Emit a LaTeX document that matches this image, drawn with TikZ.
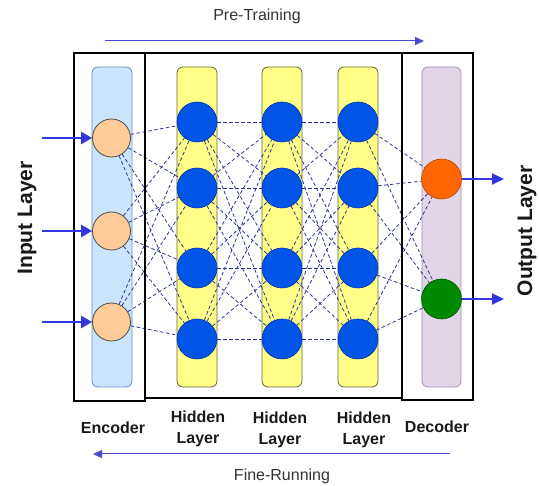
\documentclass[tikz,border=0pt]{standalone}
\usepackage{fontspec}
\setmainfont{Liberation Sans}
\usetikzlibrary{arrows.meta}
\pgfdeclarelayer{bg}
\pgfdeclarelayer{edges}
\pgfsetlayers{bg,edges,main}
\definecolor{encfill}{HTML}{CCE5FF}
\definecolor{encdraw}{HTML}{6C8EBF}
\definecolor{hidfill}{HTML}{FFFF88}
\definecolor{hiddraw}{HTML}{666633}
\definecolor{decfill}{HTML}{E1D5E7}
\definecolor{decdraw}{HTML}{A68CB8}
\definecolor{inpfill}{HTML}{FFCC99}
\definecolor{neuron}{HTML}{0055E6}
\definecolor{neurondraw}{HTML}{0033AA}
\definecolor{outorange}{HTML}{FF6600}
\definecolor{outgreen}{HTML}{008A00}
\definecolor{edgecol}{HTML}{2B3590}
\definecolor{arrowcol}{HTML}{3535E0}
\definecolor{thincol}{HTML}{4A4ACF}
\begin{document}
\begin{tikzpicture}[x=1pt,y=-1pt,
  column/.style={rounded corners=6pt, line width=0.8pt},
  bigbox/.style={draw=black, line width=2.8pt},
  hid/.style={circle, minimum size=40pt, inner sep=0pt, fill=neuron, draw=neurondraw, line width=0.6pt},
  inp/.style={circle, minimum size=38pt, inner sep=0pt, fill=inpfill, draw=black!70, line width=0.8pt},
  outn/.style={circle, minimum size=40pt, inner sep=0pt, line width=0.6pt},
  conn/.style={draw=edgecol, line width=0.8pt, dash pattern=on 3.5pt off 2.5pt},
  inarrow/.style={draw=arrowcol, line width=2.6pt, -{Triangle[length=11pt,width=12pt]}},
  outarrow/.style={draw=arrowcol, line width=2pt, -{Triangle[length=12pt,width=11pt]}},
  thinarrow/.style={draw=thincol, line width=1pt, -{Triangle[length=9pt,width=8pt]}},
  lbl/.style={font=\bfseries\fontsize{16}{21}\selectfont, align=center, text=black!90},
  sidelbl/.style={font=\bfseries\fontsize{21}{24}\selectfont, text=black!90},
  normlbl/.style={font=\fontsize{16}{18}\selectfont, text=black!80}
]
\useasboundingbox (0,0) rectangle (539,486);
% columns
\begin{pgfonlayer}{bg}
\draw[column, fill=encfill, draw=encdraw] (92,67) rectangle (132,387);
\draw[column, fill=hidfill, draw=hiddraw] (177,67) rectangle (217,387);
\draw[column, fill=hidfill, draw=hiddraw] (262,67) rectangle (302,387);
\draw[column, fill=hidfill, draw=hiddraw] (338,67) rectangle (378,387);
\draw[column, fill=decfill, draw=decdraw] (422,67) rectangle (461,387);
\end{pgfonlayer}
% black boxes
\draw[bigbox] (74,53) rectangle (145,401);
\draw[bigbox] (145,53) rectangle (402,398);
\draw[bigbox] (402,53) rectangle (473,400);
% nodes
\foreach \i/\y in {1/138,2/231,3/322} \node[inp] (e\i) at (111.5,\y) {};
\foreach \i/\y in {1/122,2/188,3/268,4/339} {
  \node[hid] (a\i) at (197,\y) {};
  \node[hid] (b\i) at (282,\y) {};
  \node[hid] (c\i) at (358,\y) {};
}
\node[outn, fill=outorange, draw=outorange!70!black] (d1) at (441.5,179) {};
\node[outn, fill=outgreen, draw=outgreen!60!black] (d2) at (441.5,299) {};
% connections
\begin{pgfonlayer}{edges}
\foreach \i in {1,2,3} \foreach \j in {1,2,3,4} \path[conn] (e\i) -- (a\j);
\foreach \i in {1,2,3,4} \foreach \j in {1,2,3,4} {
  \path[conn] (a\i) -- (b\j);
  \path[conn] (b\i) -- (c\j);
}
\foreach \i in {1,2,3,4} \foreach \j in {1,2} \path[conn] (c\i) -- (d\j);
\end{pgfonlayer}
% input arrows
\foreach \i/\y in {1/138,2/231,3/322} {
  \coordinate (in\i) at (42,\y);
  \draw[inarrow] (in\i) -- (e\i.west);
}
% output arrows
\coordinate (out1) at (504,179);
\coordinate (out2) at (504,299);
\draw[outarrow] (d1.east) -- (out1);
\draw[outarrow] (d2.east) -- (out2);
% side labels
\node[sidelbl, rotate=90] (inlbl) at (27,218) {Input Layer};
\node[sidelbl, rotate=90] (outlbl) at (527,231) {Output Layer};
% bottom labels
\node[lbl] (encl) at (113,428) {Encoder};
\node[lbl] (h1l) at (198,429) {Hidden\\Layer};
\node[lbl] (h2l) at (280,430) {Hidden\\Layer};
\node[lbl] (h3l) at (364,430) {Hidden\\Layer};
\node[lbl] (decl) at (437,427) {Decoder};
% training arrows
\node[normlbl] (pre) at (257,16) {Pre-Training};
\coordinate (preA) at (105,41);
\coordinate (preB) at (424,41);
\draw[thinarrow] (preA) -- (preB);
\node[normlbl] (fine) at (282,476) {Fine-Running};
\coordinate (fineA) at (450,454);
\coordinate (fineB) at (93,454);
\draw[thinarrow] (fineA) -- (fineB);
\end{tikzpicture}
\end{document}
